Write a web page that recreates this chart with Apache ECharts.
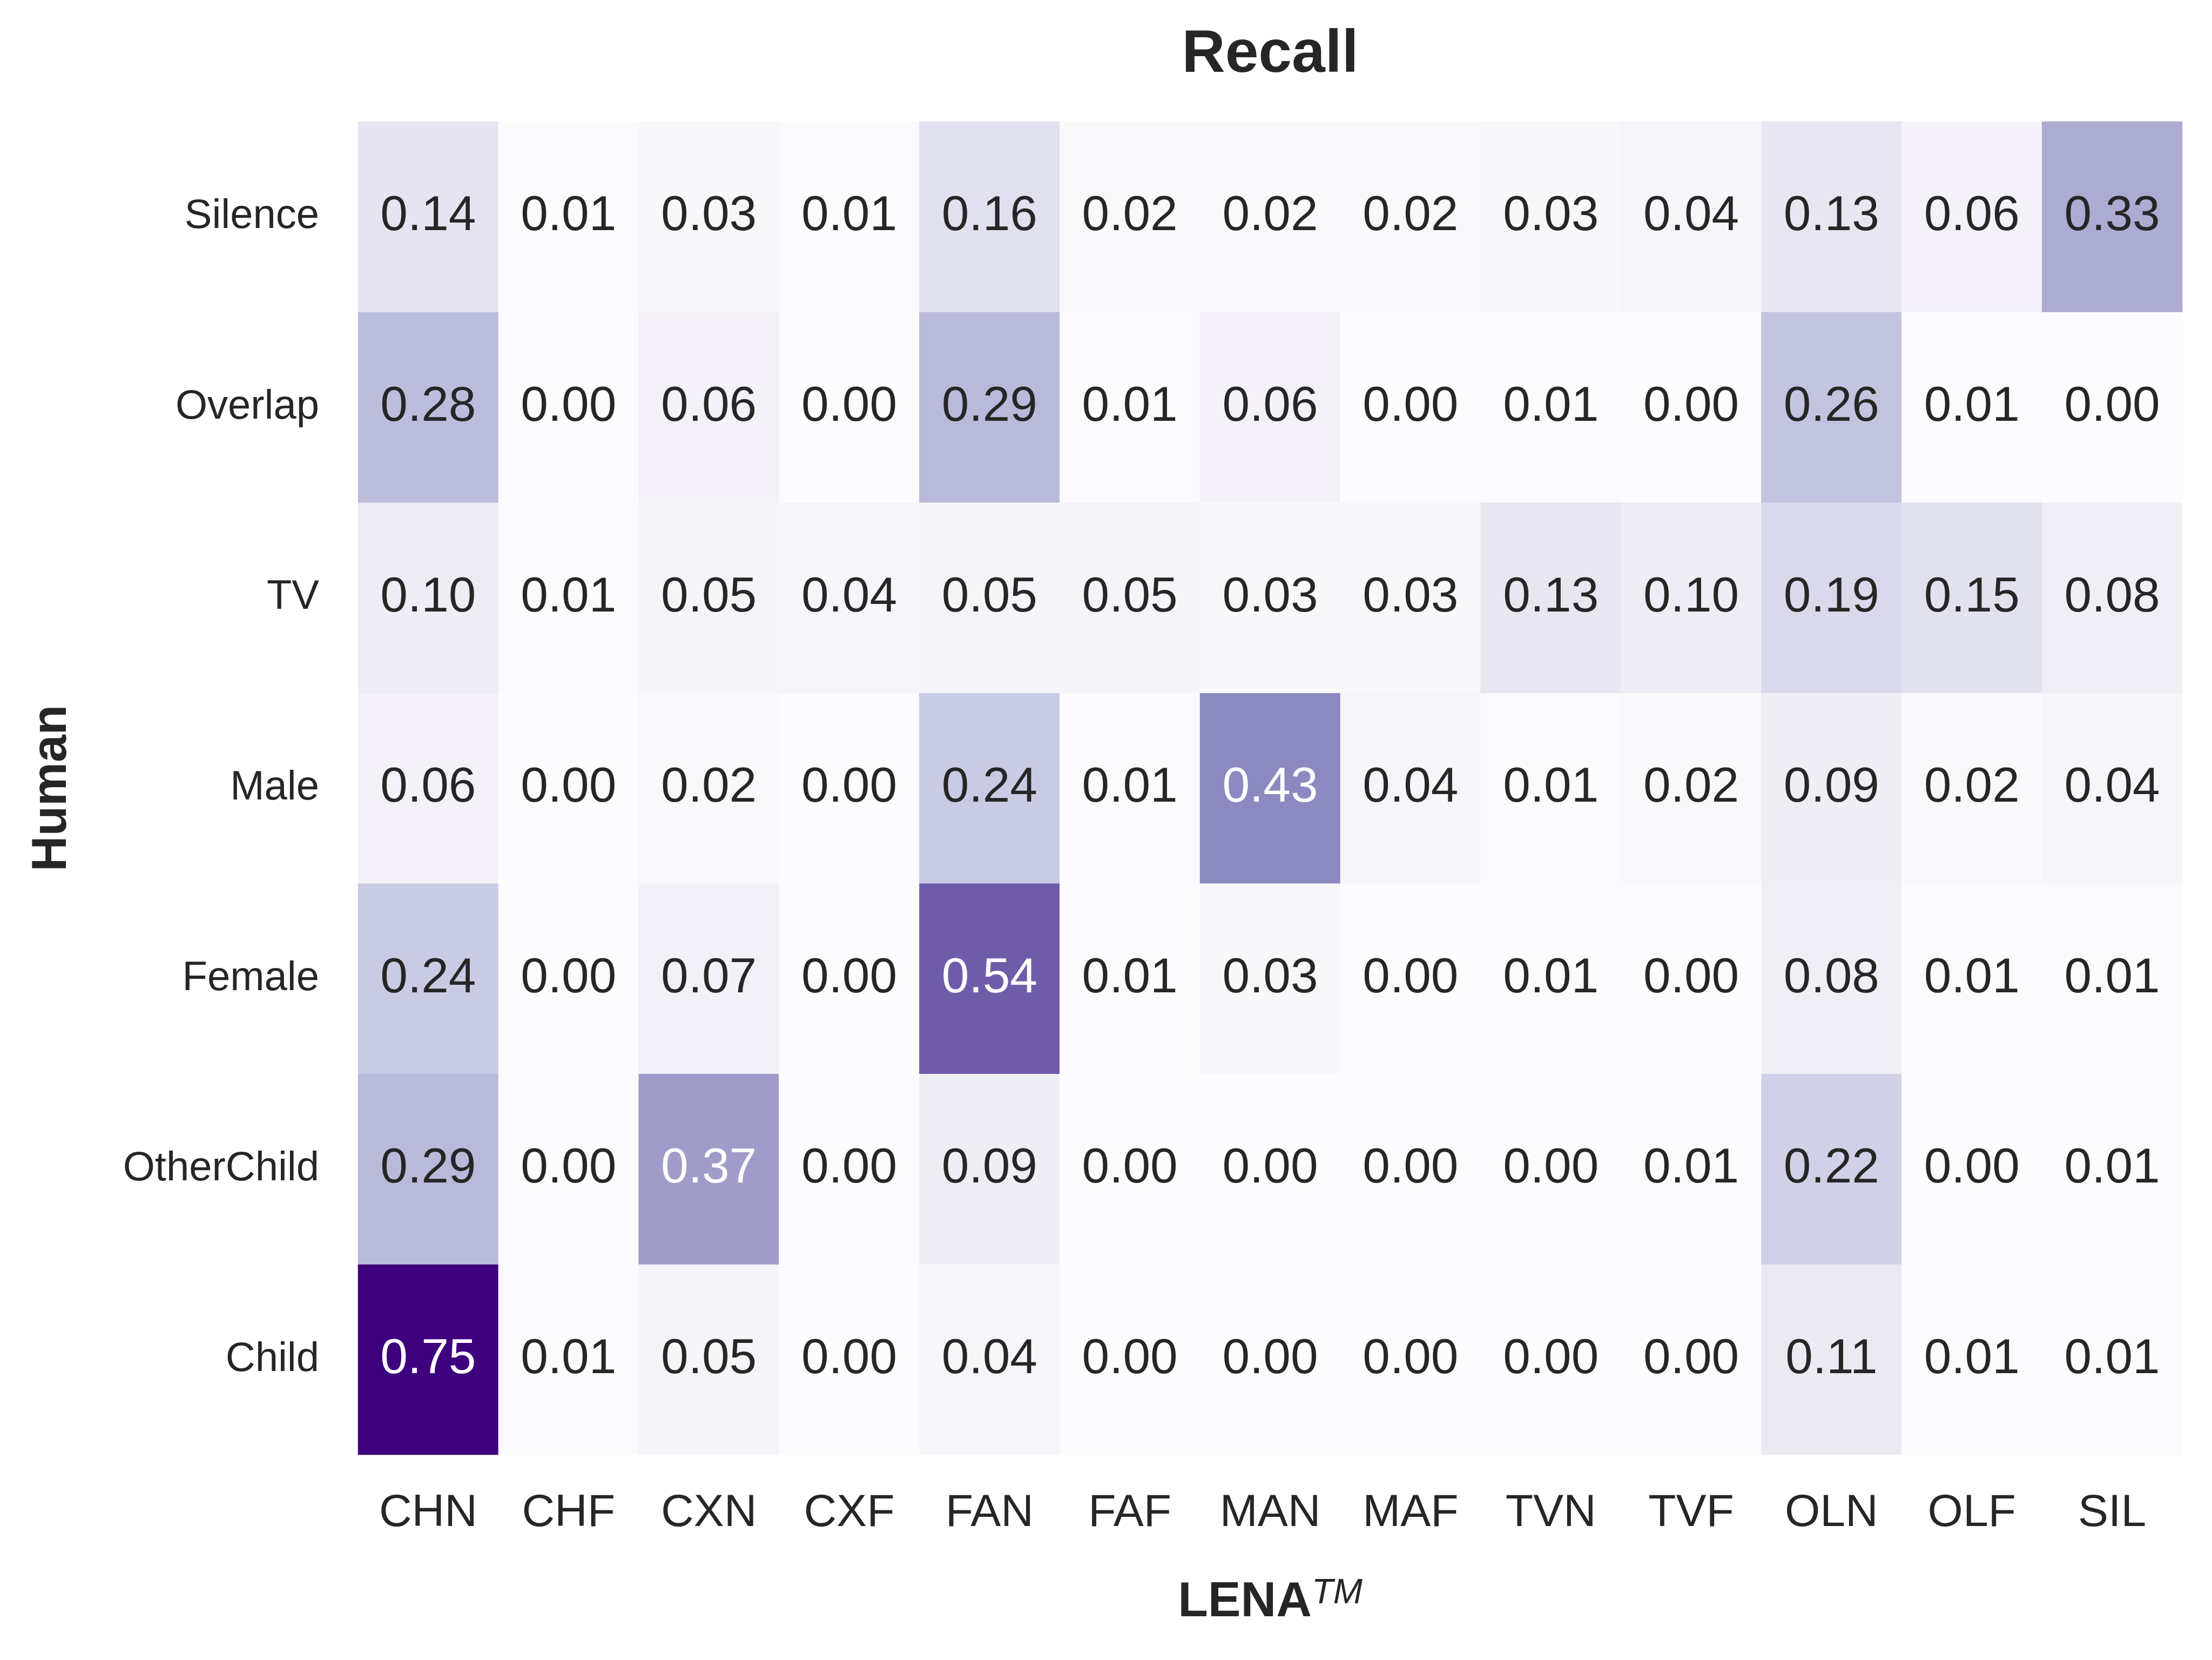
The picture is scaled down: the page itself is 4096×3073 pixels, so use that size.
<!DOCTYPE html>
<html>
<head>
<meta charset="utf-8">
<script src="https://cdn.jsdelivr.net/npm/echarts@6/dist/echarts.min.js"></script>
<style>
html,body{margin:0;padding:0;background:#ffffff;}
#chart{width:4096px;height:3073px;}
</style>
</head>
<body>
<div id="chart"></div>
<script>
// Categories
const xCats = ['CHN','CHF','CXN','CXF','FAN','FAF','MAN','MAF','TVN','TVF','OLN','OLF','SIL'];
const yCats = ['Child','OtherChild','Female','Male','TV','Overlap','Silence']; // bottom to top

// Recall values per human class (row), in xCats order
const silence    = [0.14,0.01,0.03,0.01,0.16,0.02,0.02,0.02,0.03,0.04,0.13,0.06,0.33];
const overlap    = [0.28,0.00,0.06,0.00,0.29,0.01,0.06,0.00,0.01,0.00,0.26,0.01,0.00];
const tv         = [0.10,0.01,0.05,0.04,0.05,0.05,0.03,0.03,0.13,0.10,0.19,0.15,0.08];
const male       = [0.06,0.00,0.02,0.00,0.24,0.01,0.43,0.04,0.01,0.02,0.09,0.02,0.04];
const female     = [0.24,0.00,0.07,0.00,0.54,0.01,0.03,0.00,0.01,0.00,0.08,0.01,0.01];
const otherChild = [0.29,0.00,0.37,0.00,0.09,0.00,0.00,0.00,0.00,0.01,0.22,0.00,0.01];
const child      = [0.75,0.01,0.05,0.00,0.04,0.00,0.00,0.00,0.00,0.00,0.11,0.01,0.01];

const rows = [child, otherChild, female, male, tv, overlap, silence]; // same order as yCats

const purples = ['#fcfbfd','#efedf5','#dadaeb','#bcbddc','#9e9ac8','#807dba','#6a51a3','#54278f','#3f007d'];
const FONT = '"Liberation Sans", Arial, Helvetica, sans-serif';
const DARK = '#262626';

const data = [];
rows.forEach((row, yi) => {
  row.forEach((v, xi) => {
    data.push({
      value: [xi, yi, v],
      label: { color: v >= 0.35 ? '#ffffff' : DARK }
    });
  });
});

const chart = echarts.init(document.getElementById('chart'), null, {renderer: 'canvas'});
chart.setOption({
  backgroundColor: '#ffffff',
  animation: false,
  textStyle: { fontFamily: FONT },
  title: {
    text: 'Recall',
    left: 2352,
    textAlign: 'center',
    top: 47,
    padding: 0,
    textStyle: { fontSize: 111, fontWeight: 'bold', color: DARK, fontFamily: FONT }
  },
  grid: { left: 663, top: 225, width: 3378, height: 2468, containLabel: false },
  xAxis: {
    type: 'category',
    data: xCats,
    axisLine: { show: false },
    axisTick: { show: false },
    splitLine: { show: false },
    axisLabel: { fontSize: 84, margin: 67, color: DARK, fontFamily: FONT, interval: 0 },
    name: '{a|LENA}{b|TM}',
    nameLocation: 'middle',
    nameGap: 224,
    nameTextStyle: {
      color: DARK,
      rich: {
        a: { fontSize: 91, fontWeight: 'bold', color: DARK, fontFamily: FONT, lineHeight: 100 },
        b: { fontSize: 65, fontStyle: 'italic', color: DARK, fontFamily: FONT, lineHeight: 54, verticalAlign: 'top' }
      }
    }
  },
  yAxis: {
    type: 'category',
    data: yCats,
    axisLine: { show: false },
    axisTick: { show: false },
    splitLine: { show: false },
    axisLabel: { fontSize: 76, margin: 72, color: DARK, fontFamily: FONT, interval: 0, padding: [0,0,14,0] },
    name: 'Human',
    nameLocation: 'middle',
    nameGap: 521,
    nameTextStyle: { fontSize: 91, fontWeight: 'bold', color: DARK, fontFamily: FONT }
  },
  visualMap: {
    type: 'continuous',
    show: false,
    min: 0,
    max: 0.75,
    dimension: 2,
    inRange: { color: purples }
  },
  series: [{
    type: 'heatmap',
    data: data,
    itemStyle: { borderWidth: 0 },
    label: {
      show: true,
      fontSize: 91,
      fontFamily: FONT,
      offset: [0, 0],
      formatter: p => p.value[2].toFixed(2)
    },
    emphasis: { disabled: true }
  }]
});
</script>
</body>
</html>
